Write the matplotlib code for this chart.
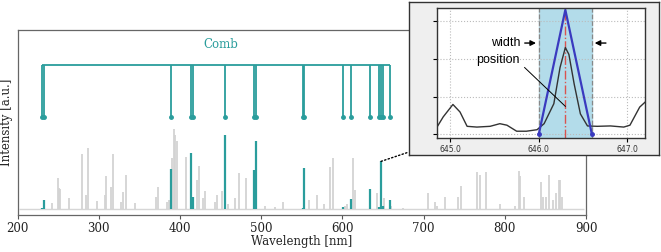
import matplotlib.pyplot as plt
from matplotlib.patches import ConnectionPatch

# comb / calibration lines (nm) and the height of their spectral peak
comb_nm = [230.3, 233.2, 389.4, 414.0, 416.0, 455.5, 490.6, 493.1, 551.3, 552.5,
           601.0, 610.3, 634.2, 644.8, 647.7, 650.6, 658.9]
comb_peak = [0.04, 0.08, 0.25, 0.333, 0.096, 0.432, 0.243, 0.40, 0.04, 0.255,
             0.045, 0.085, 0.139, 0.045, 0.29, 0.05, 0.08]

# other lines of the spectrum (gray)
line_nm = [243, 249.3, 251.5, 252.5, 262.8, 279.2, 284.5, 287.4, 298.5, 307.9, 309,
           315.7, 317.8, 328, 329.3, 334.2, 344.8, 370, 373.2, 384.3, 386, 390, 392.9,
           394.5, 396.6, 407.3, 420.8, 422.9, 428.6, 430.3, 443, 445.8, 452, 459.8,
           467.2, 472.2, 480.8, 505, 517, 526.3, 558.7, 568.2, 577.2, 585, 588.7,
           603.5, 606, 613.3, 615.8, 642.9, 651.5, 660, 675, 705.7, 714, 716, 727,
           742.7, 746, 765.7, 769, 776.4, 794.4, 812, 817.7, 819, 823.3, 844.5, 847,
           850.7, 854.8, 859, 863.4, 866.4, 868, 871]
line_peak = [0.066, 0.20, 0.146, 0.14, 0.09, 0.33, 0.11, 0.364, 0.075, 0.11, 0.21,
             0.15, 0.33, 0.07, 0.126, 0.216, 0.066, 0.10, 0.15, 0.07, 0.08, 0.306, 0.465,
             0.43, 0.40, 0.315, 0.19, 0.265, 0.09, 0.13, 0.07, 0.11, 0.13, 0.06,
             0.09, 0.225, 0.20, 0.05, 0.045, 0.07, 0.08, 0.11, 0.06, 0.26, 0.31,
             0.05, 0.06, 0.306, 0.135, 0.12, 0.09, 0.05, 0.04, 0.117, 0.07, 0.05, 0.096,
             0.10, 0.157, 0.234, 0.216, 0.23, 0.06, 0.05, 0.238, 0.21, 0.10, 0.18, 0.10,
             0.10, 0.216, 0.08, 0.12, 0.19, 0.19, 0.10]
baseline = 0.032
baseline_nm = [202, 898]
comb_top = 0.81
comb_bottom = 0.53

# zoomed inset: measured profile around 646 nm
zoom_nm = [644.85, 644.92, 645.03, 645.11, 645.19, 645.30, 645.45, 645.56, 645.64,
           645.75, 645.86, 645.98, 646.06, 646.17, 646.24, 646.30, 646.34, 646.40,
           646.47, 646.55, 646.66, 646.81, 646.96, 647.03, 647.14, 647.2]
zoom_int = [0.19, 0.46, 0.79, 0.59, 0.21, 0.19, 0.21, 0.28, 0.24, 0.08, 0.08, 0.12,
            0.28, 0.81, 1.77, 2.30, 2.12, 1.33, 0.54, 0.22, 0.21, 0.22, 0.19, 0.24,
            0.72, 0.85]
tri_nm = [646.0, 646.3, 646.6]
tri_int = [0, 3.3, 0]
center_nm = 646.3

teal = '#2a9d9c'
serif = 'DejaVu Serif'

fig = plt.figure(figsize=(6.61, 2.52), dpi=100)
ax = fig.add_axes([17.5 / 661, 37 / 252, 568.5 / 661, 185 / 252])

ax.hlines(baseline, baseline_nm[0], baseline_nm[1], color='#d6d6d6', lw=1)
ax.vlines(line_nm, baseline, line_peak, color='#d3d3d3', lw=1.3)
ax.vlines(comb_nm, baseline, comb_peak, color=teal, lw=1.6)

# the comb on top
ax.hlines(comb_top, comb_nm[0], comb_nm[-1], color=teal, lw=1.3)
ax.vlines(comb_nm, comb_bottom, comb_top, color=teal, lw=1.3)
ax.plot(comb_nm, [comb_bottom] * len(comb_nm), 'o', color=teal, ms=2.5)
ax.text(450, 0.92, 'Comb', color=teal, fontsize=8.5, family=serif, ha='center', va='center')

ax.set_xlim(200, 900)
ax.set_ylim(0, 1)
ax.set_yticks([])
ax.set_xticks(range(200, 1000, 100))
ax.tick_params(axis='x', length=3, width=0.8, color='#555', labelsize=8.5, pad=2, labelcolor='#222')
for lab in ax.get_xticklabels():
    lab.set_family(serif)
for s in ax.spines.values():
    s.set_color('#666')
    s.set_linewidth(0.9)
ax.set_xlabel('Wavelength [nm]', family=serif, fontsize=8.5, labelpad=0, color='#222')
ax.set_ylabel('Intensity [a.u.]', family=serif, fontsize=8.5, labelpad=3, color='#222')

# inset frame
box = fig.add_axes([409 / 661, 97 / 252, 250 / 661, 153 / 252])
box.set_facecolor('#efefef')
box.set_xticks([])
box.set_yticks([])
for s in box.spines.values():
    s.set_color('#333')
    s.set_linewidth(1)

con = ConnectionPatch(xyA=(comb_nm[14], comb_peak[14]), coordsA=ax.transData,
                      xyB=(409 / 661, 100 / 252), coordsB=fig.transFigure,
                      linestyle=':', color='k', lw=1)
fig.add_artist(con)

ins = fig.add_axes([437 / 661, 114 / 252, 208 / 661, 130 / 252])
ins.set_xlim(644.85, 647.2)
ins.set_ylim(-0.1, 3.35)
ins.axvspan(tri_nm[0], tri_nm[-1], color='#b3dcea', zorder=0)
ins.axvline(tri_nm[0], ls='--', color='#888', lw=0.9)
ins.axvline(tri_nm[-1], ls='--', color='#888', lw=0.9)
ins.axvline(center_nm, ls='-.', color='#d9534f', lw=1)
ins.plot(zoom_nm, zoom_int, color='#333', lw=1)
ins.plot(tri_nm, tri_int, color='#3a3abf', lw=1.6)
ins.plot([tri_nm[0], tri_nm[-1]], [tri_int[0], tri_int[-1]], 'o', color='#3a3abf', ms=2.5)

sans = 'Liberation Sans'
ins.annotate('', xy=(646.0, 2.42), xytext=(645.81, 2.42),
             arrowprops=dict(arrowstyle='-|>', color='k', lw=1, mutation_scale=8))
ins.annotate('', xy=(646.6, 2.42), xytext=(646.79, 2.42),
             arrowprops=dict(arrowstyle='-|>', color='k', lw=1, mutation_scale=8))
ins.text(645.79, 2.42, 'width', ha='right', va='center', fontsize=9, family=sans)
ins.text(645.54, 1.97, 'position', ha='center', va='center', fontsize=9, family=sans)
ins.plot([645.84, center_nm], [1.77, 0.74], color='k', lw=0.7)

ins.set_xticks([645, 646, 647])
ins.set_xticklabels(['645.0', '646.0', '647.0'])
ins.set_yticks([0, 1, 2, 3])
ins.set_yticklabels([])
ins.tick_params(length=3, width=0.8, labelsize=5.5, pad=2, labelcolor='#333')
ins.grid(True, linestyle=':', color='#bbbbbb', lw=0.8)
for s in ins.spines.values():
    s.set_color('#333')
    s.set_linewidth(1)

fig.savefig('out.png', dpi=100)
